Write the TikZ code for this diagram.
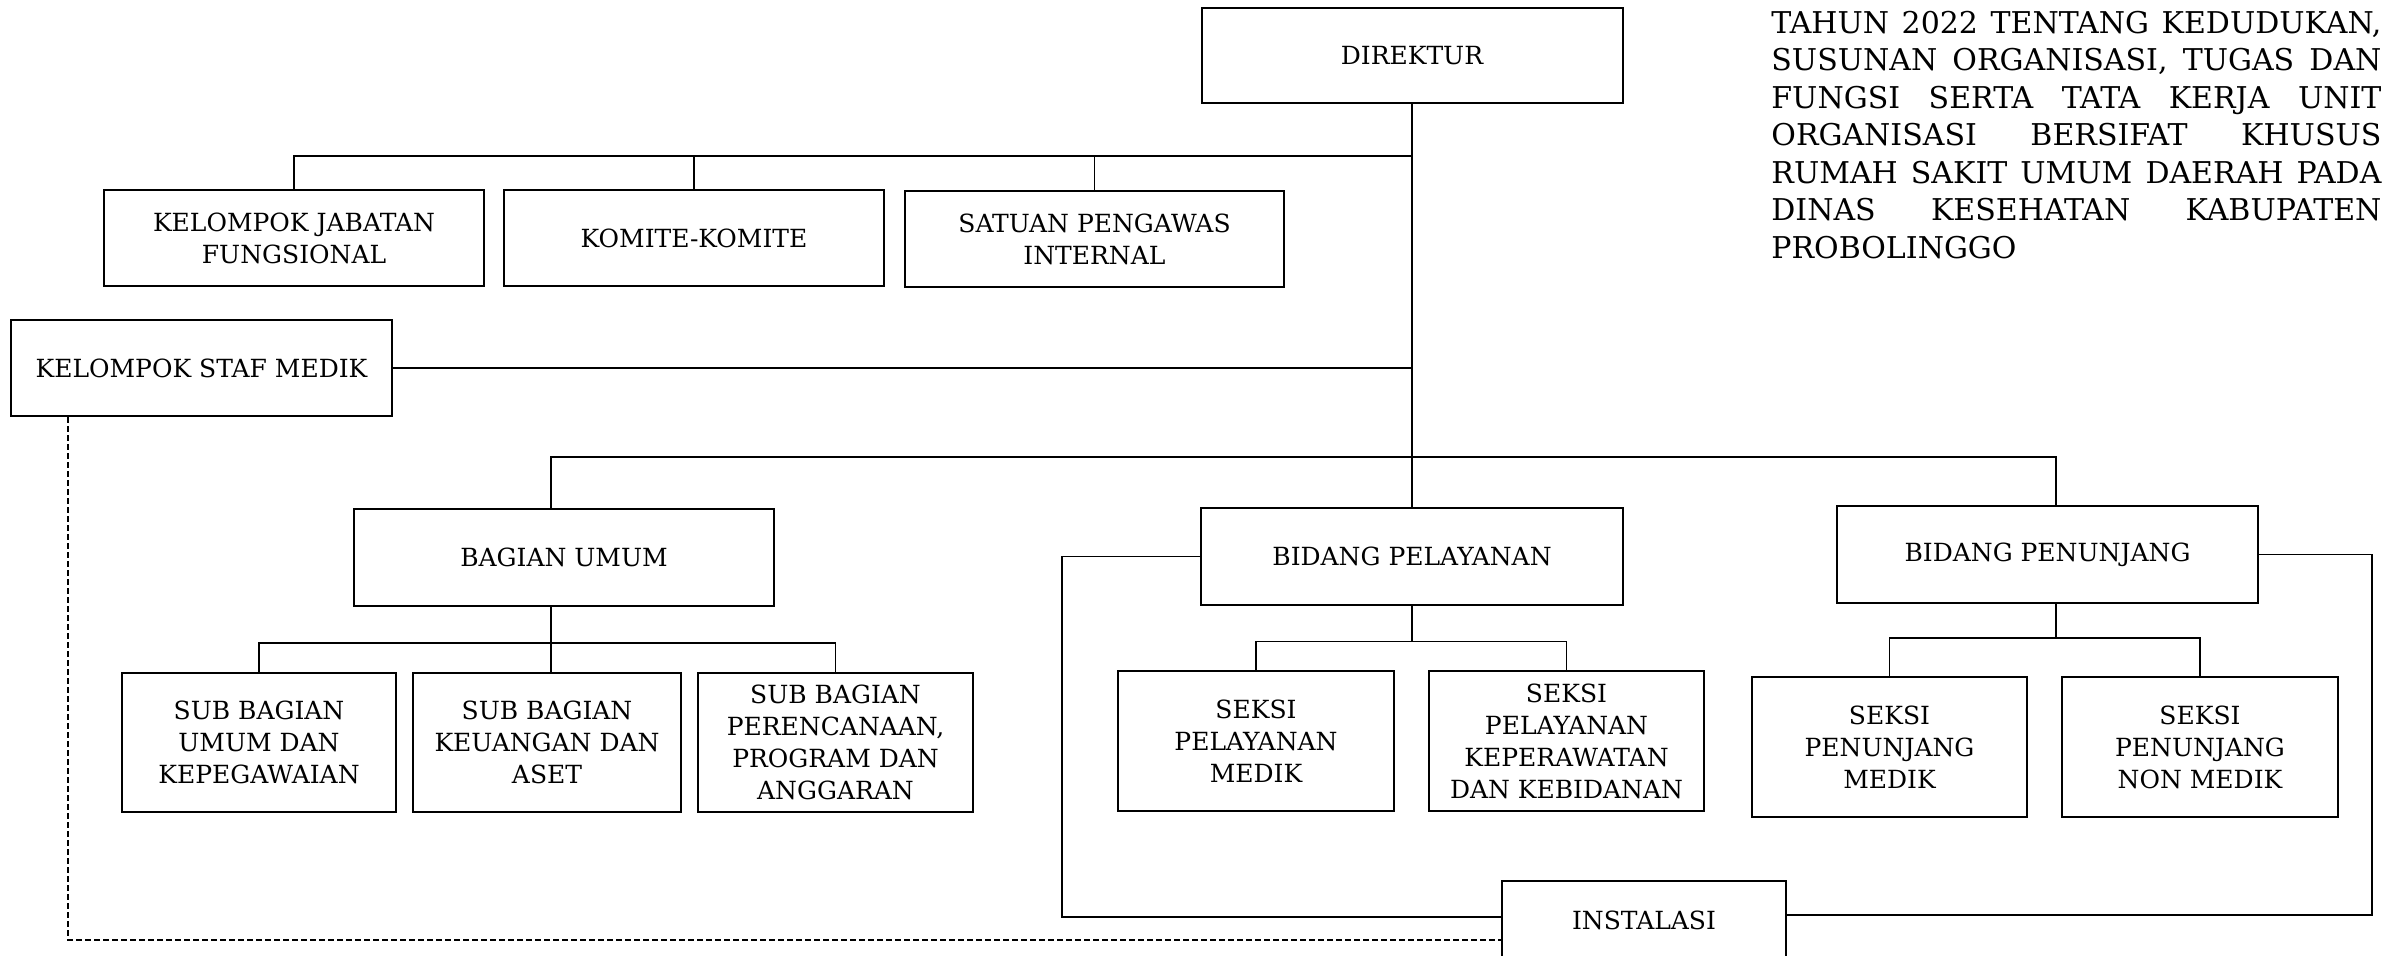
\documentclass[tikz,border=0pt]{standalone}
\usepackage{fontspec}
\setmainfont{DejaVu Serif}
\newcommand\boxfont{\fontsize{12.5}{16}\selectfont}
\newcommand\titlefont{\fontsize{15}{18.75}\selectfont}
\begin{document}
\begin{tikzpicture}[x=0.5pt,y=-0.5pt,
  box/.style={draw, line width=1pt, fill=white, align=center, inner sep=2pt, font=\boxfont},
  conn/.style={line width=0.75pt},
  dashlink/.style={line width=0.6pt, dash pattern=on 3pt off 1.5pt}]
\useasboundingbox (0,0) rectangle (2383,955);
\clip (0,0) rectangle (2383,955);

% boxes
\node[box, minimum width=210.5pt, minimum height=47.5pt] (dir) at (1412,55.5) {DIREKTUR};
\node[box, minimum width=190pt, minimum height=48pt] (kjf) at (294,238) {KELOMPOK JABATAN\\FUNGSIONAL};
\node[box, minimum width=190pt, minimum height=48pt] (kom) at (694,238) {KOMITE-KOMITE};
\node[box, minimum width=189.5pt, minimum height=48pt] (spi) at (1094.5,239) {SATUAN PENGAWAS\\INTERNAL};
\node[box, minimum width=190.5pt, minimum height=48pt] (ksm) at (201.5,368) {KELOMPOK STAF MEDIK};
\node[box, minimum width=210pt, minimum height=48.5pt] (bu) at (564,557.5) {BAGIAN UMUM};
\node[box, minimum width=211pt, minimum height=48.5pt] (bp) at (1412,556.5) {BIDANG PELAYANAN};
\node[box, minimum width=210.5pt, minimum height=48.5pt] (bpn) at (2047.5,554.5) {BIDANG PENUNJANG};
\node[box, minimum width=137pt, minimum height=69.5pt] (sb1) at (259,742.5) {SUB BAGIAN\\UMUM DAN\\KEPEGAWAIAN};
\node[box, minimum width=134pt, minimum height=69.5pt] (sb2) at (547,742.5) {SUB BAGIAN\\KEUANGAN DAN\\ASET};
\node[box, minimum width=137.5pt, minimum height=69.5pt] (sb3) at (835.5,742.5) {SUB BAGIAN\\PERENCANAAN,\\PROGRAM DAN\\ANGGARAN};
\node[box, minimum width=138pt, minimum height=70pt] (s1) at (1256,741) {SEKSI\\PELAYANAN\\MEDIK};
\node[box, minimum width=137.5pt, minimum height=70pt] (s2) at (1566.5,741) {SEKSI\\PELAYANAN\\KEPERAWATAN\\DAN KEBIDANAN};
\node[box, minimum width=137.5pt, minimum height=70pt] (s3) at (1889.5,747) {SEKSI\\PENUNJANG\\MEDIK};
\node[box, minimum width=138pt, minimum height=70pt] (s4) at (2200,747) {SEKSI\\PENUNJANG\\NON MEDIK};
\node[box, minimum width=142pt, minimum height=39.5pt] (ins) at (1644,920.5) {INSTALASI};

% title text
\node[anchor=base west, inner sep=0pt] (title) at (1771,33) {\parbox[t]{305pt}{\titlefont
\makebox[305pt][s]{TAHUN 2022 TENTANG KEDUDUKAN,}\\
\makebox[305pt][s]{SUSUNAN ORGANISASI, TUGAS DAN}\\
\makebox[305pt][s]{FUNGSI SERTA TATA KERJA UNIT}\\
\makebox[305pt][s]{ORGANISASI BERSIFAT KHUSUS}\\
\makebox[305pt][s]{RUMAH SAKIT UMUM DAERAH PADA}\\
\makebox[305pt][s]{DINAS KESEHATAN KABUPATEN}\\
PROBOLINGGO}};

% junction coordinates
\coordinate (j1) at (1412,156);
\coordinate (j2) at (551,457);
\coordinate (j3) at (2056,457);
\coordinate (k1) at (551,643);
\coordinate (k2) at (1412,641.5);
\coordinate (k3) at (2056,638);
\coordinate (lp) at (1062,917);
\coordinate (rp) at (2372,915);
\coordinate (dl) at (68,940);

% connectors
\draw[conn] (dir.south) -- (bp.north);
\draw[conn] (kjf.north) |- (j1);
\draw[conn] (kom.north) -- (kom.north |- j1);
\draw[conn] (spi.north) -- (spi.north |- j1);
\draw[conn] (ksm.east) -- (ksm.east -| j1);
\draw[conn] (j2 |- bu.north) -- (j2) -- (j3) -- (j3 |- bpn.north);
\draw[conn] (j2 |- bu.south) -- (j2 |- sb2.north);
\draw[conn] (sb1.north) |- (sb3.north |- k1) -- (sb3.north);
\draw[conn] (bp.south) -- (k2);
\draw[conn] (s1.north) |- (s2.north |- k2) -- (s2.north);
\draw[conn] (j3 |- bpn.south) -- (k3);
\draw[conn] (s3.north) |- (s4.north |- k3) -- (s4.north);
\draw[conn] (bp.west) -| (lp) -- (lp -| ins.west);
\draw[conn] (bpn.east) -| (rp) -- (rp -| ins.east);
\draw[dashlink] (ksm.south -| dl) -- (dl) -- (dl -| ins.west);
\end{tikzpicture}
\end{document}
